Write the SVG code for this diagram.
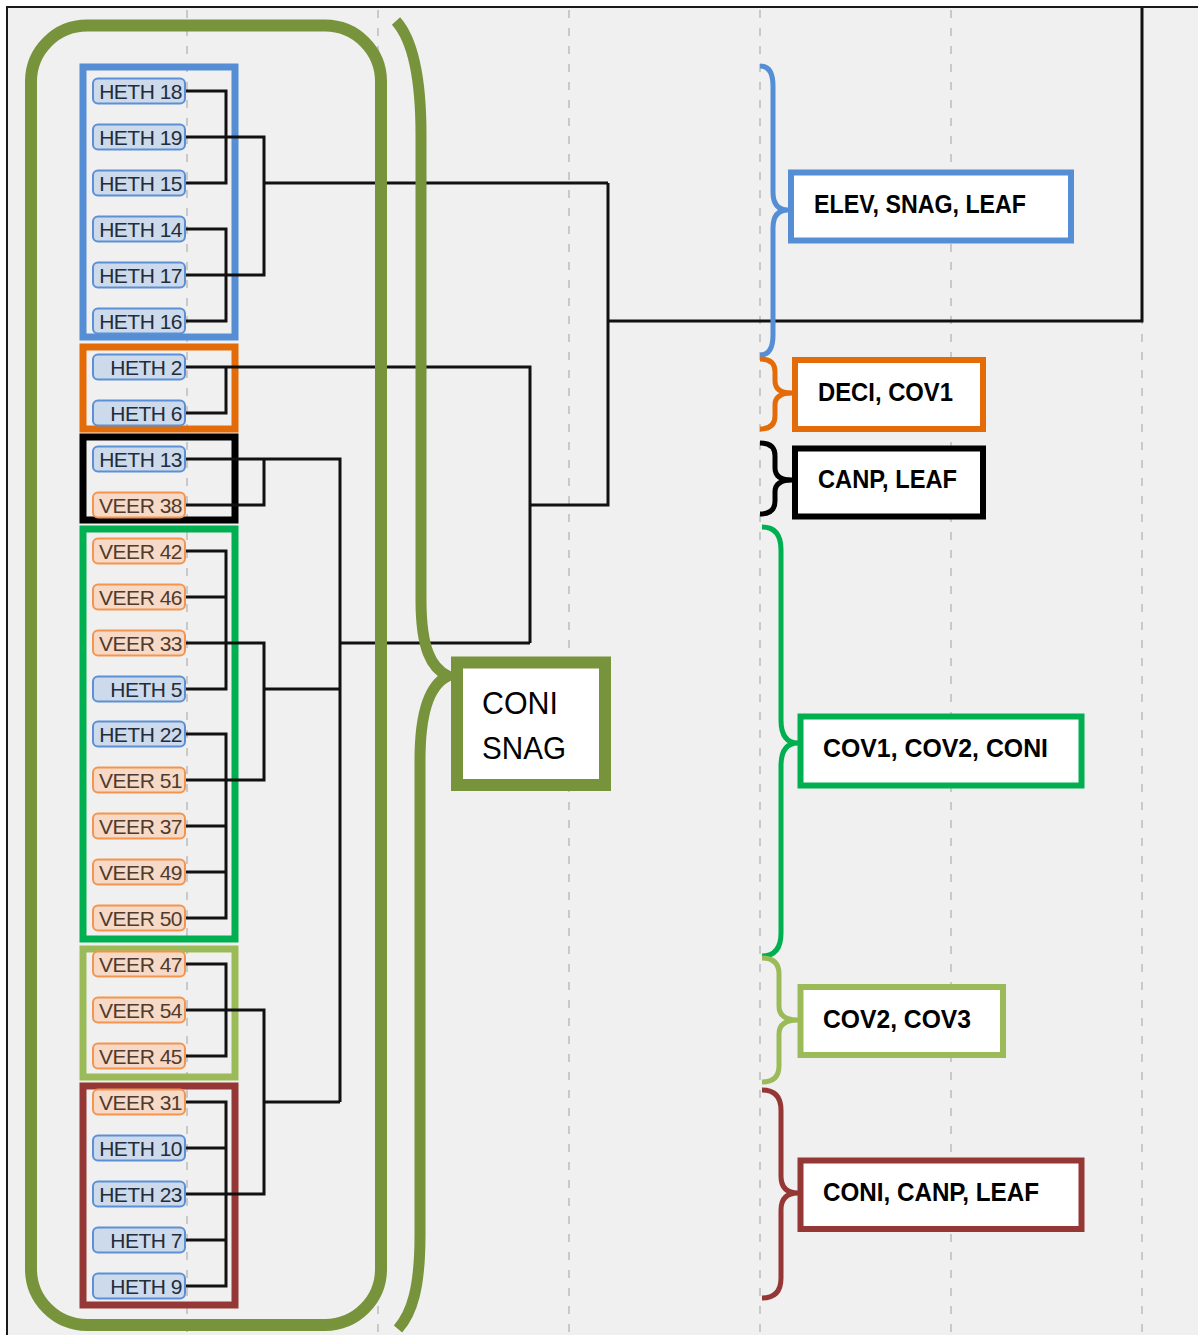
<svg xmlns="http://www.w3.org/2000/svg" width="1198" height="1335" viewBox="0 0 1198 1335">
<style>
.grid{stroke:#c9c9c9;stroke-width:2;stroke-dasharray:8 10;fill:none}
.dl{stroke:#111;stroke-width:3;fill:none;stroke-linejoin:miter}
.lh rect{fill:#cddaeb;stroke:#5b8fd6;stroke-width:2}
.lv rect{fill:#f6d9c6;stroke:#f4954f;stroke-width:2}
.lh text,.lv text{font-family:"Liberation Sans",Arial,sans-serif;font-size:21px;text-anchor:end;letter-spacing:-0.5px}
.lh text{fill:#222c3a}
.lv text{fill:#4f3b2d}
.grp{fill:none;stroke-width:7}
.brace{fill:none;stroke-width:5;stroke-linecap:butt}
.rb rect{fill:#fff;stroke-width:6}
.rb text{font-family:"Liberation Sans",Arial,sans-serif;font-weight:bold;font-size:26px;fill:#000}
</style>
<rect x="0" y="0" width="1198" height="1335" fill="#fff"/>
<rect x="8" y="8" width="1190" height="1327" fill="#f0f0f0"/>
<path d="M7,1335 V7 H1198" stroke="#1a1a1a" stroke-width="2" fill="none"/>
<g id="gridlines">
<line class="grid" x1="187" y1="10" x2="187" y2="1335"/>
<line class="grid" x1="378" y1="10" x2="378" y2="1335"/>
<line class="grid" x1="569" y1="10" x2="569" y2="1335"/>
<line class="grid" x1="760" y1="10" x2="760" y2="1335"/>
<line class="grid" x1="951" y1="10" x2="951" y2="1335"/>
<line class="grid" x1="1142" y1="10" x2="1142" y2="1335"/>
</g>
<g id="group-boxes">
<rect id="grp-blue" class="grp" x="83" y="67" width="152" height="270" stroke="#558ed5"/>
<rect id="grp-orange" class="grp" x="83" y="347" width="152" height="82" stroke="#e36c09"/>
<rect id="grp-black" class="grp" x="83" y="437" width="152" height="83" stroke="#000"/>
<rect id="grp-green" class="grp" x="83" y="529" width="152" height="410" stroke="#00b050"/>
<rect id="grp-lightgreen" class="grp" x="83" y="949" width="152" height="128" stroke="#9bbb59"/>
<rect id="grp-red" class="grp" x="83" y="1086" width="152" height="219" stroke="#953735"/>
</g>
<g id="connectors">
<path class="dl" d="M185,91 H226 V183 H185"/>
<path class="dl" d="M185,229 H226 V321 H185"/>
<path class="dl" d="M185,137 H264 V275 H185"/>
<path class="dl" d="M264,183 H608"/>
<path class="dl" d="M185,413 H226 V367"/>
<path class="dl" d="M185,367 H530 V643"/>
<path class="dl" d="M530,505 H608 V183"/>
<path class="dl" d="M608,321 H1142 V8"/>
<path class="dl" d="M185,459 H340 V1102"/>
<path class="dl" d="M185,505 H264 V459"/>
<path class="dl" d="M340,643 H530"/>
<path class="dl" d="M185,551 H226 V689 H185"/>
<path class="dl" d="M185,597 H226"/>
<path class="dl" d="M185,643 H264 V780 H185"/>
<path class="dl" d="M264,689 H340"/>
<path class="dl" d="M185,734 H226 V918 H185"/>
<path class="dl" d="M185,826 H226"/>
<path class="dl" d="M185,872 H226"/>
<path class="dl" d="M185,964 H226 V1056 H185"/>
<path class="dl" d="M185,1010 H264 V1194 H185"/>
<path class="dl" d="M264,1102 H340"/>
<path class="dl" d="M185,1102 H226 V1286 H185"/>
<path class="dl" d="M185,1148 H226"/>
<path class="dl" d="M185,1240 H226"/>
</g>
<g id="leaves">
<g id="n-heth18" class="lh"><rect x="93" y="78.5" width="92" height="25" rx="5"/><text x="182" y="99">HETH 18</text></g>
<g id="n-heth19" class="lh"><rect x="93" y="124.5" width="92" height="25" rx="5"/><text x="182" y="145">HETH 19</text></g>
<g id="n-heth15" class="lh"><rect x="93" y="170.5" width="92" height="25" rx="5"/><text x="182" y="191">HETH 15</text></g>
<g id="n-heth14" class="lh"><rect x="93" y="216.5" width="92" height="25" rx="5"/><text x="182" y="237">HETH 14</text></g>
<g id="n-heth17" class="lh"><rect x="93" y="262.5" width="92" height="25" rx="5"/><text x="182" y="283">HETH 17</text></g>
<g id="n-heth16" class="lh"><rect x="93" y="308.5" width="92" height="25" rx="5"/><text x="182" y="329">HETH 16</text></g>
<g id="n-heth2" class="lh"><rect x="93" y="354.5" width="92" height="25" rx="5"/><text x="182" y="375">HETH 2</text></g>
<g id="n-heth6" class="lh"><rect x="93" y="400.5" width="92" height="25" rx="5"/><text x="182" y="421">HETH 6</text></g>
<g id="n-heth13" class="lh"><rect x="93" y="446.5" width="92" height="25" rx="5"/><text x="182" y="467">HETH 13</text></g>
<g id="n-veer38" class="lv"><rect x="93" y="492.5" width="92" height="25" rx="5"/><text x="182" y="513">VEER 38</text></g>
<g id="n-veer42" class="lv"><rect x="93" y="538.5" width="92" height="25" rx="5"/><text x="182" y="559">VEER 42</text></g>
<g id="n-veer46" class="lv"><rect x="93" y="584.5" width="92" height="25" rx="5"/><text x="182" y="605">VEER 46</text></g>
<g id="n-veer33" class="lv"><rect x="93" y="630.5" width="92" height="25" rx="5"/><text x="182" y="651">VEER 33</text></g>
<g id="n-heth5" class="lh"><rect x="93" y="676.5" width="92" height="25" rx="5"/><text x="182" y="697">HETH 5</text></g>
<g id="n-heth22" class="lh"><rect x="93" y="721.5" width="92" height="25" rx="5"/><text x="182" y="742">HETH 22</text></g>
<g id="n-veer51" class="lv"><rect x="93" y="767.5" width="92" height="25" rx="5"/><text x="182" y="788">VEER 51</text></g>
<g id="n-veer37" class="lv"><rect x="93" y="813.5" width="92" height="25" rx="5"/><text x="182" y="834">VEER 37</text></g>
<g id="n-veer49" class="lv"><rect x="93" y="859.5" width="92" height="25" rx="5"/><text x="182" y="880">VEER 49</text></g>
<g id="n-veer50" class="lv"><rect x="93" y="905.5" width="92" height="25" rx="5"/><text x="182" y="926">VEER 50</text></g>
<g id="n-veer47" class="lv"><rect x="93" y="951.5" width="92" height="25" rx="5"/><text x="182" y="972">VEER 47</text></g>
<g id="n-veer54" class="lv"><rect x="93" y="997.5" width="92" height="25" rx="5"/><text x="182" y="1018">VEER 54</text></g>
<g id="n-veer45" class="lv"><rect x="93" y="1043.5" width="92" height="25" rx="5"/><text x="182" y="1064">VEER 45</text></g>
<g id="n-veer31" class="lv"><rect x="93" y="1089.5" width="92" height="25" rx="5"/><text x="182" y="1110">VEER 31</text></g>
<g id="n-heth10" class="lh"><rect x="93" y="1135.5" width="92" height="25" rx="5"/><text x="182" y="1156">HETH 10</text></g>
<g id="n-heth23" class="lh"><rect x="93" y="1181.5" width="92" height="25" rx="5"/><text x="182" y="1202">HETH 23</text></g>
<g id="n-heth7" class="lh"><rect x="93" y="1227.5" width="92" height="25" rx="5"/><text x="182" y="1248">HETH 7</text></g>
<g id="n-heth9" class="lh"><rect x="93" y="1273.5" width="92" height="25" rx="5"/><text x="182" y="1294">HETH 9</text></g>
</g>
<g id="olive-group">
<rect x="31" y="25.5" width="350" height="1299.5" rx="56" fill="none" stroke="#77933c" stroke-width="12"/>
<path d="M396,21 C413,40 421,80 421,135 L421,600 C421,648 431,668 448,676 C431,684 420,708 420,760 L420,1235 C420,1288 412,1313 398,1329" fill="none" stroke="#77933c" stroke-width="11"/>
</g>
<g id="n-coni-snag">
<rect x="457" y="662.5" width="148" height="122.5" fill="#fff" stroke="#77933c" stroke-width="12"/>
<text x="482" y="714" font-family="'Liberation Sans',Arial,sans-serif" font-size="31" fill="#000" textLength="76" lengthAdjust="spacingAndGlyphs">CONI</text>
<text x="482" y="759" font-family="'Liberation Sans',Arial,sans-serif" font-size="31" fill="#000" textLength="84" lengthAdjust="spacingAndGlyphs">SNAG</text>
</g>
<g id="braces">
<path class="brace" stroke="#558ed5" d="M760,66 Q773,66 773,86 L773,192 Q773,210 788,210 Q773,210 773,228 L773,335 Q773,355 760,355"/>
<path class="brace" stroke="#e36c09" d="M760,359 Q775,359 775,372 L775,381 Q775,393 792,393 Q775,393 775,405 L775,416 Q775,429 760,429"/>
<path class="brace" stroke="#000" d="M760,443 Q775,443 775,456 L775,468 Q775,480 792,480 Q775,480 775,492 L775,501 Q775,514 760,514"/>
<path class="brace" stroke="#00b050" d="M762,527 Q781,527 781,550 L781,720 Q781,743 798,743 Q781,743 781,766 L781,933 Q781,956 762,956"/>
<path class="brace" stroke="#9bbb59" d="M762,958 Q779,958 779,974 L779,1006 Q779,1020 798,1020 Q779,1020 779,1034 L779,1066 Q779,1082 762,1082"/>
<path class="brace" stroke="#953735" d="M762,1090 Q781,1090 781,1110 L781,1176 Q781,1193 798,1193 Q781,1193 781,1210 L781,1278 Q781,1298 762,1298"/>
</g>
<g id="n-elev" class="rb"><rect x="791" y="172.5" width="280" height="68" stroke="#558ed5"/><text x="814" y="213" textLength="212" lengthAdjust="spacingAndGlyphs">ELEV, SNAG, LEAF</text></g>
<g id="n-deci" class="rb"><rect x="795" y="360" width="188" height="69" stroke="#e36c09"/><text x="818" y="401" textLength="135" lengthAdjust="spacingAndGlyphs">DECI, COV1</text></g>
<g id="n-canp" class="rb"><rect x="795" y="448.5" width="188" height="68" stroke="#000"/><text x="818" y="488" textLength="139" lengthAdjust="spacingAndGlyphs">CANP, LEAF</text></g>
<g id="n-cov1" class="rb"><rect x="800.5" y="716.5" width="281" height="69" stroke="#00b050"/><text x="823" y="757" textLength="225" lengthAdjust="spacingAndGlyphs">COV1, COV2, CONI</text></g>
<g id="n-cov2" class="rb"><rect x="800.5" y="987" width="202.5" height="68" stroke="#9bbb59"/><text x="823" y="1028" textLength="148" lengthAdjust="spacingAndGlyphs">COV2, COV3</text></g>
<g id="n-coni" class="rb"><rect x="800.5" y="1160.5" width="281" height="68.5" stroke="#953735"/><text x="823" y="1201" textLength="216" lengthAdjust="spacingAndGlyphs">CONI, CANP, LEAF</text></g>
</svg>
